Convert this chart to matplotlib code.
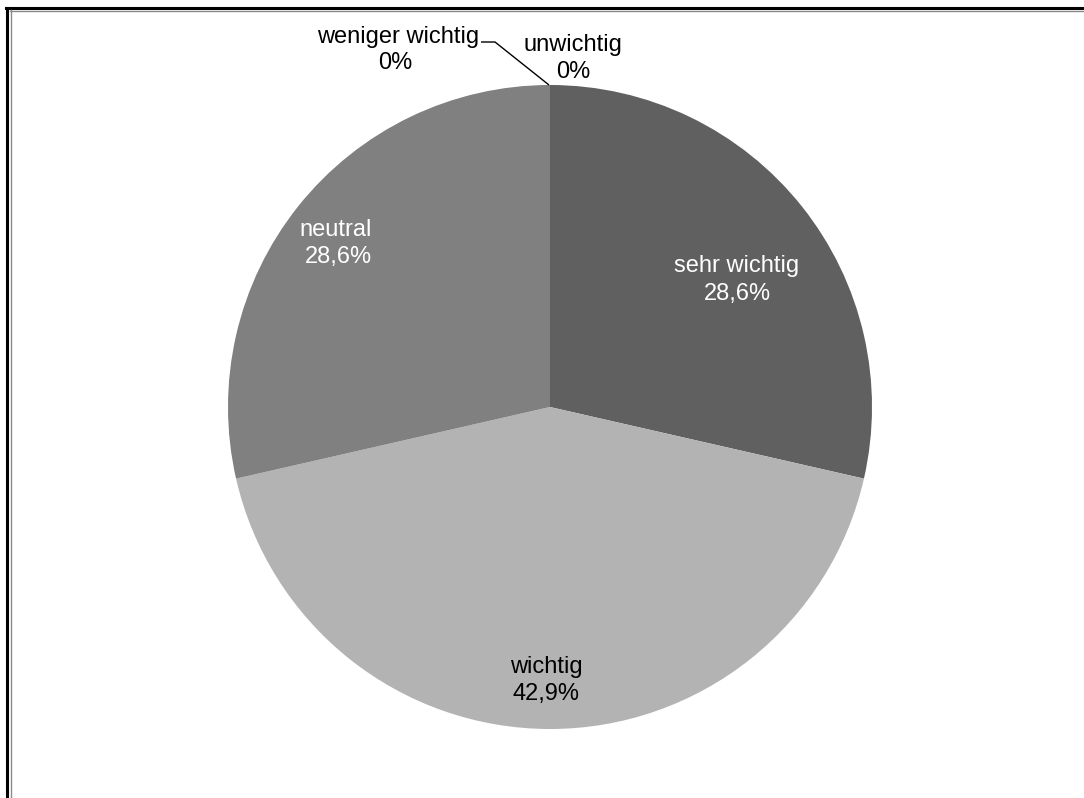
import matplotlib
matplotlib.use("Agg")
import matplotlib.pyplot as plt
from matplotlib.lines import Line2D

categories = ["sehr wichtig", "wichtig", "neutral", "weniger wichtig", "unwichtig"]
shares = [28.6, 42.9, 28.6, 0.0, 0.0]
share_labels = ["28,6%", "42,9%", "28,6%", "0%", "0%"]
slice_colors = ["#606060", "#b3b3b3", "#808080", "#9a9a9a", "#4a4a4a"]

W, H = 1084, 798
fig = plt.figure(figsize=(W / 100, H / 100), dpi=100)
ax = fig.add_axes([0, 0, 1, 1])

cx, cy, r = 550, 407, 322
wedges, _ = ax.pie(shares, colors=slice_colors, startangle=90, counterclock=False,
                   center=(cx, cy), radius=r, frame=True,
                   wedgeprops=dict(linewidth=0, antialiased=True))
ax.set_xlim(0, W)
ax.set_ylim(H, 0)
ax.set_aspect("equal")
ax.axis("off")
# y axis is inverted, so flip the pie back to clockwise-from-top ordering
for w in wedges:
    t1, t2 = w.theta1, w.theta2
    w.set_theta1(-t2)
    w.set_theta2(-t1)

font = dict(family=["Liberation Sans", "DejaVu Sans"], fontsize=17)

# in-slice labels
ax.text(737, 266, categories[0], color="white", ha="center", va="center", **font)
ax.text(737, 294, share_labels[0], color="white", ha="center", va="center", **font)
ax.text(546, 667, categories[1], color="black", ha="center", va="center", **font)
ax.text(546, 694, share_labels[1], color="black", ha="center", va="center", **font)
ax.text(336, 230, categories[2], color="white", ha="center", va="center", **font)
ax.text(338, 257, share_labels[2], color="white", ha="center", va="center", **font)

# zero-share labels outside the pie
ax.text(398, 37, categories[3], color="black", ha="center", va="center", **font)
ax.text(395, 63, share_labels[3], color="black", ha="center", va="center", **font)
ax.text(573, 45, categories[4], color="black", ha="center", va="center", **font)
ax.text(573, 72, share_labels[4], color="black", ha="center", va="center", **font)

# leader line to the top of the pie
top_y = cy - r
ax.plot([481, 495, cx - 1], [42, 42, top_y], color="black", lw=1.0, solid_capstyle="butt")

# frame lines along top and left edges
def px(x, y):
    return x / W, 1 - y / H

fig.add_artist(Line2D([px(6, 8)[0], 1], [px(6, 8)[1]] * 2, color="black", lw=2.2))
fig.add_artist(Line2D([px(7, 8)[0]] * 2, [px(7, 8)[1], 0], color="black", lw=2.2))
fig.add_artist(Line2D([px(10, 10.5)[0], 1], [px(10, 10.5)[1]] * 2, color="#8a8a8a", lw=1.0))
fig.add_artist(Line2D([px(10.5, 10)[0]] * 2, [px(10.5, 10)[1], 0], color="#8a8a8a", lw=1.0))

fig.savefig("out.png", dpi=100, facecolor="white")
